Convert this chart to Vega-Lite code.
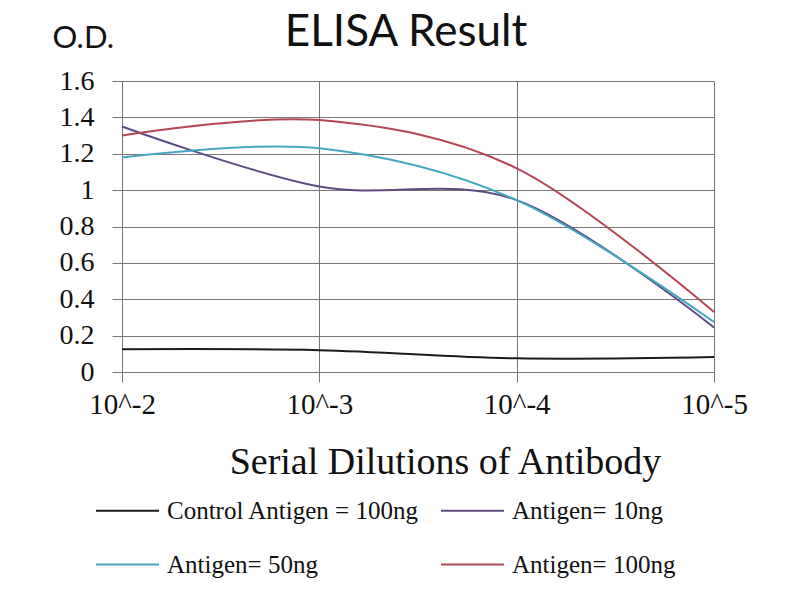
{
  "$schema": "https://vega.github.io/schema/vega-lite/v6.json",
  "description": "ELISA Result: O.D. by serial dilution of antibody",
  "width": 592,
  "height": 291,
  "autosize": {"type": "none"},
  "padding": {"left": 122, "top": 81, "right": 86, "bottom": 228},
  "background": "white",
  "title": {
    "text": "ELISA Result",
    "font": "Lato",
    "fontSize": 44,
    "fontWeight": "normal",
    "color": "#111111",
    "anchor": "middle",
    "dx": -12,
    "dy": 33,
    "offset": 0
  },
  "data": {
    "values": [
      {"dilution": "10^-2", "series": "Control Antigen = 100ng", "od": 0.125},
      {"dilution": "10^-3", "series": "Control Antigen = 100ng", "od": 0.12},
      {"dilution": "10^-4", "series": "Control Antigen = 100ng", "od": 0.075},
      {"dilution": "10^-5", "series": "Control Antigen = 100ng", "od": 0.082},
      {"dilution": "10^-2", "series": "Antigen= 10ng", "od": 1.35},
      {"dilution": "10^-3", "series": "Antigen= 10ng", "od": 1.02},
      {"dilution": "10^-4", "series": "Antigen= 10ng", "od": 0.945},
      {"dilution": "10^-5", "series": "Antigen= 10ng", "od": 0.245},
      {"dilution": "10^-2", "series": "Antigen= 50ng", "od": 1.18},
      {"dilution": "10^-3", "series": "Antigen= 50ng", "od": 1.23},
      {"dilution": "10^-4", "series": "Antigen= 50ng", "od": 0.945},
      {"dilution": "10^-5", "series": "Antigen= 50ng", "od": 0.275},
      {"dilution": "10^-2", "series": "Antigen= 100ng", "od": 1.3},
      {"dilution": "10^-3", "series": "Antigen= 100ng", "od": 1.385},
      {"dilution": "10^-4", "series": "Antigen= 100ng", "od": 1.12},
      {"dilution": "10^-5", "series": "Antigen= 100ng", "od": 0.33}
    ]
  },
  "mark": {"type": "line", "interpolate": "cardinal", "strokeWidth": 2},
  "encoding": {
    "x": {
      "field": "dilution",
      "type": "ordinal",
      "sort": ["10^-2", "10^-3", "10^-4", "10^-5"],
      "scale": {"type": "point", "padding": 0},
      "axis": {
        "title": "Serial Dilutions of Antibody",
        "titleFont": "Liberation Serif, Times New Roman, Times, serif",
        "titleFontSize": 38,
        "titleFontWeight": "normal",
        "titleColor": "#111111",
        "titleAnchor": "start",
        "titleAlign": "center",
        "titleBaseline": "alphabetic",
        "titleX": 323,
        "titleY": 101,
        "labelAngle": 0,
        "labelFont": "Liberation Serif, Times New Roman, Times, serif",
        "labelFontSize": 29,
        "labelColor": "#111111",
        "labelPadding": 8,
        "tickSize": 10,
        "tickColor": "#777777",
        "domainColor": "#777777",
        "grid": true,
        "gridColor": "#777777"
      }
    },
    "y": {
      "field": "od",
      "type": "quantitative",
      "scale": {"domain": [0, 1.6]},
      "axis": {
        "title": "O.D.",
        "titleFont": "Lato",
        "titleFontSize": 31,
        "titleFontWeight": "normal",
        "titleColor": "#111111",
        "titleAngle": 0,
        "titleAlign": "left",
        "titleBaseline": "alphabetic",
        "titleX": -70,
        "titleY": -34,
        "values": [0, 0.2, 0.4, 0.6, 0.8, 1, 1.2, 1.4, 1.6],
        "format": "~g",
        "labelFont": "Liberation Serif, Times New Roman, Times, serif",
        "labelFontSize": 28,
        "labelColor": "#111111",
        "labelPadding": 18,
        "tickSize": 10,
        "tickColor": "#777777",
        "domainColor": "#777777",
        "grid": true,
        "gridColor": "#777777"
      }
    },
    "color": {
      "field": "series",
      "type": "nominal",
      "sort": ["Control Antigen = 100ng", "Antigen= 10ng", "Antigen= 50ng", "Antigen= 100ng"],
      "scale": {
        "domain": ["Control Antigen = 100ng", "Antigen= 10ng", "Antigen= 50ng", "Antigen= 100ng"],
        "range": ["#1c1c1c", "#5e4b80", "#45a7bf", "#b44654"]
      },
      "legend": {
        "title": null,
        "orient": "none",
        "legendX": -27,
        "legendY": 397,
        "columns": 2,
        "direction": "horizontal",
        "symbolType": "stroke",
        "symbolSize": 3969,
        "symbolStrokeWidth": 2,
        "labelFont": "Liberation Serif, Times New Roman, Times, serif",
        "labelFontSize": 25,
        "labelColor": "#111111",
        "labelOffset": 7,
        "labelLimit": 400,
        "columnPadding": 17,
        "rowPadding": 8
      }
    }
  },
  "config": {"view": {"stroke": null}}
}
